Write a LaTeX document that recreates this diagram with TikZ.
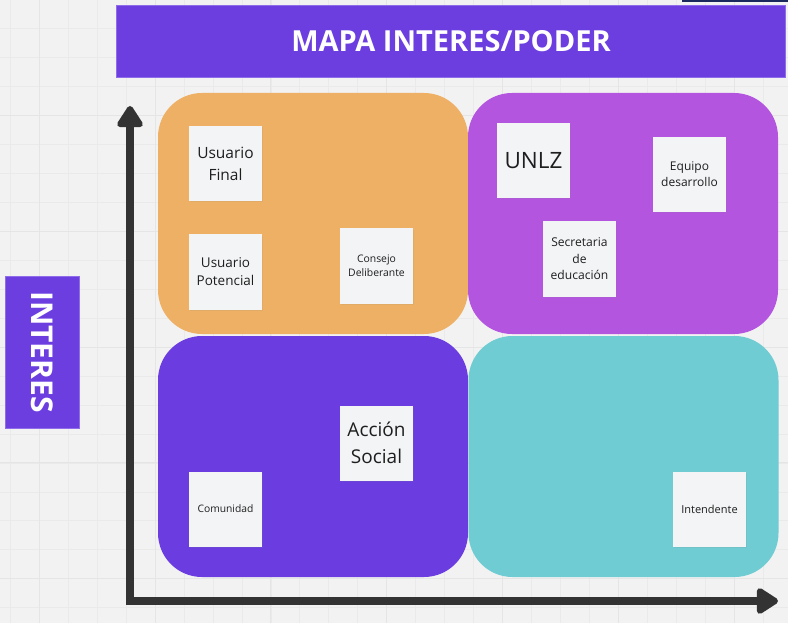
\documentclass[tikz,border=0pt]{standalone}
\usepackage{fontspec}
\setmainfont{Open Sans}
\usetikzlibrary{arrows.meta,shadows}
\definecolor{bgc}{HTML}{F2F2F2}
\definecolor{gridc}{HTML}{EAEAEA}
\definecolor{gridm}{HTML}{E5E5E5}
\definecolor{titlec}{HTML}{6C3EE0}
\definecolor{titleb}{HTML}{8E6CEA}
\definecolor{orangec}{HTML}{EEB064}
\definecolor{purplec}{HTML}{B455E0}
\definecolor{violetc}{HTML}{6B3DE0}
\definecolor{tealc}{HTML}{6FCCD3}
\definecolor{notec}{HTML}{F3F4F6}
\definecolor{axisc}{HTML}{333333}
\definecolor{textc}{HTML}{1E1E1E}
\definecolor{navyc}{HTML}{1B2A5E}
\tikzset{
  gridline/.style={draw=gridc, line width=0.7pt},
  gridmajor/.style={draw=gridm, line width=1.1pt},
  banner/.style={fill=titlec, draw=titleb, line width=0.8pt, inner sep=0pt, text=white, font=\bfseries},
  quad/.style={rounded corners=44pt, inner sep=0pt, minimum width=310pt, minimum height=241pt},
  note/.style={fill=notec, inner sep=0pt, minimum width=73pt, minimum height=75pt, text=textc, align=center,
    drop shadow={shadow xshift=0.6pt, shadow yshift=-1.4pt, opacity=0.12}},
  axis/.style={draw=axisc, line width=8pt, line join=miter,
    {Triangle[round, length=24pt, width=29pt]}-{Triangle[round, length=24pt, width=29pt]}},
}
\newcommand{\fs}[2]{\fontsize{#1}{#2}\selectfont}
\begin{document}
\begin{tikzpicture}[x=1pt,y=-1pt]
\useasboundingbox (0,0) rectangle (788,623);
\fill[bgc] (0,0) rectangle (788,623);
% grid
\foreach \i in {0,...,27} {\draw[gridline] ({10.3+28.95*\i},0) -- ({10.3+28.95*\i},623);}
\foreach \j in {0,...,21} {\draw[gridline] (0,{-0.3+28.95*\j}) -- (788,{-0.3+28.95*\j});}
\foreach \i in {0,...,6} {\draw[gridmajor] ({39.25+115.8*\i},0) -- ({39.25+115.8*\i},623);}
\foreach \j in {0,...,5} {\draw[gridmajor] (0,{-0.3+115.8*\j}) -- (788,{-0.3+115.8*\j});}
\fill[navyc] (682,0) rectangle (788,2);
% title and side label
\node[banner, minimum width=669pt, minimum height=72pt, font=\bfseries\fs{29}{34}] (title) at (451,41) {MAPA INTERES/PODER};
\node[banner, minimum width=74pt, minimum height=152pt] (intbox) at (42,352) {};
\node[text=white, font=\bfseries\fs{30}{34}, rotate=-90] (intlbl) at (intbox.center) {INTERES};
% quadrants
\node[quad, fill=orangec] (qa) at (313,213.5) {};
\node[quad, fill=purplec] (qb) at (623,213.5) {};
\node[quad, fill=violetc] (qc) at (313,456.5) {};
\node[quad, fill=tealc] (qd) at (623.5,456.5) {};
% axes
\coordinate (ytip) at (130,106);
\coordinate (orig) at (130,601);
\coordinate (xtip) at (778,601);
\draw[axis] (ytip) -- (orig) -- (xtip);
% notes
\node[note, font=\fs{15.5}{22}] (fin) at (225.5,163.5) {Usuario\\Final};
\node[note, font=\fs{13.5}{18}] (pot) at (225.5,272) {Usuario\\Potencial};
\node[note, font=\fs{10.4}{14}] (con) at (376.5,266) {Consejo\\Deliberante};
\node[note, font=\fs{22.5}{26}] (unlz) at (533.5,160.5) {UNLZ};
\node[note, font=\fs{12}{16}] (equ) at (689.5,174.5) {Equipo\\desarrollo};
\node[note, font=\fs{12.1}{16.5}] (sec) at (579.5,259) {Secretaria\\de\\educación};
\node[note, font=\fs{19}{27}] (acc) at (376.5,443) {Acción\\Social};
\node[note, font=\fs{10.3}{14}] (com) at (225.5,509) {Comunidad};
\node[note, font=\fs{11}{14}] (int) at (709.5,509) {Intendente};
\end{tikzpicture}
\end{document}
